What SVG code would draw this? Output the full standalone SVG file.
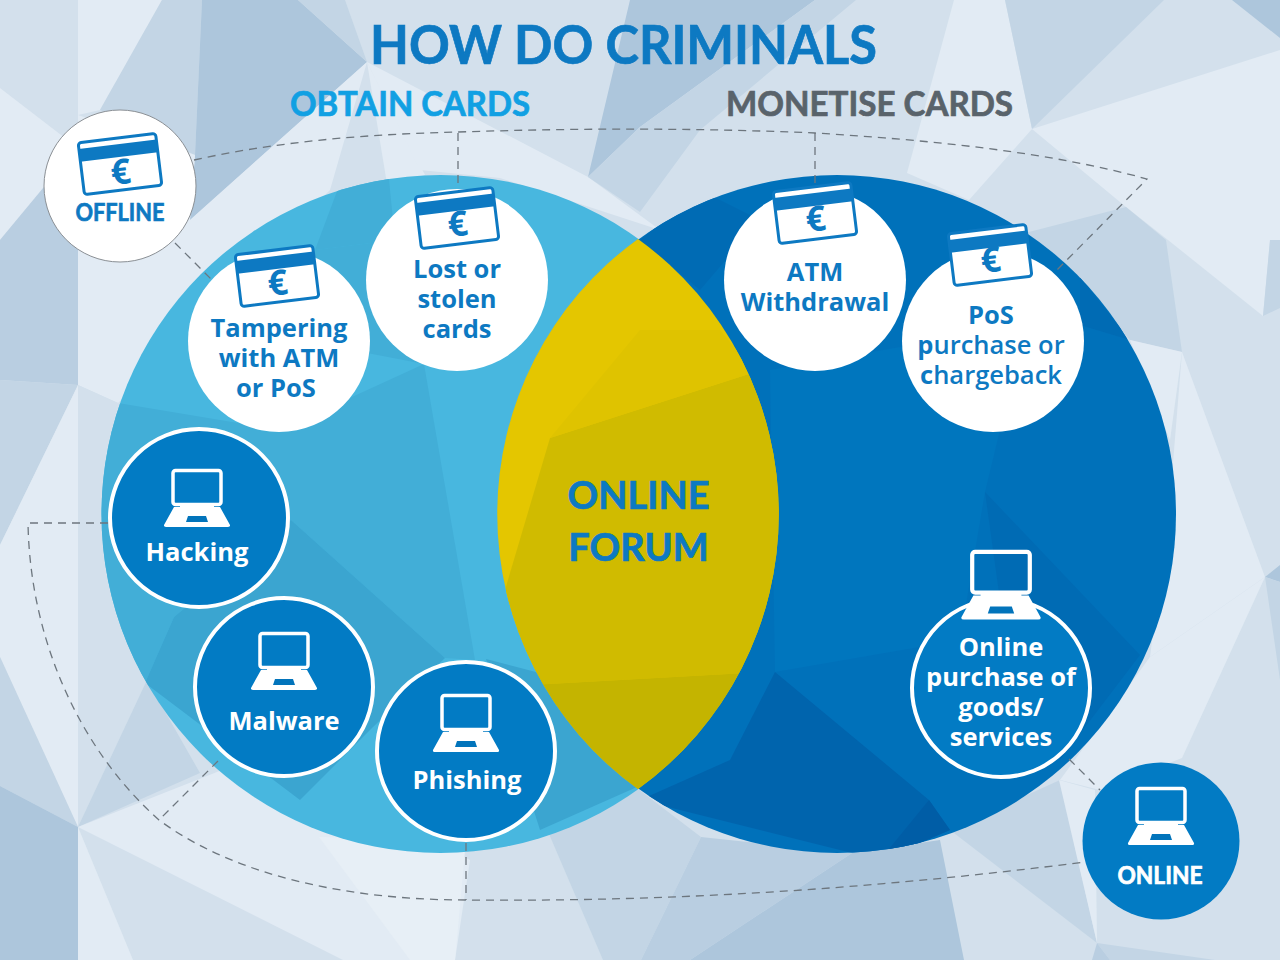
<svg xmlns="http://www.w3.org/2000/svg" width="1280" height="960" viewBox="0 0 1280 960">
<style>
.t{font-family:"Open Sans","Liberation Sans",sans-serif;font-weight:700;text-anchor:middle}
.h{font-family:"Lato","Open Sans",sans-serif;font-weight:700;stroke-width:.7}
.lb{font-size:25.500px;fill:#0d79c2}
.lw{font-size:25.500px;fill:#fff}
.eu{font-size:35px;fill:#0d79c2}
.thin{font-weight:600}
.dash{fill:none;stroke:#6d767e;stroke-width:1.3;stroke-dasharray:8 6}
.a{fill:#e2ebf4}.b{fill:#d3e0ec}.c{fill:#c3d5e5}.d{fill:#adc6dc}.e{fill:#b9cee1}.w{fill:#e7eff6}
.f1{fill:#42aed7}.f2{fill:#3ba5d0}
.r1{fill:#0076be}.r2{fill:#006bb4}.r3{fill:#0064ad}.r4{fill:#005da6}
</style>
<defs>
<clipPath id="cl"><circle cx="440.500" cy="514" r="339"/></clipPath>
<clipPath id="cr"><circle cx="837" cy="514" r="339"/></clipPath>
<clipPath id="lens"><path d="M638,239A339,339 0 0 1 638,789A339,339 0 0 1 638,239Z"/></clipPath>
<g id="card"><rect x="-39" y="-26" width="78" height="52" rx="3" fill="#fff" stroke="#0d79c2" stroke-width="3"/><rect x="-39" y="-20" width="78" height="13" fill="#0d79c2"/></g>
<g id="lap"><rect x="-24" y="1.500" width="48" height="34" rx="2.500" fill="none" stroke="#fff" stroke-width="3.500"/><path d="M-17,36H17V38H23L33,56Q33.500,58 31,58H-31Q-33.500,58 -33,56L-23,38H-17Z" fill="#fff"/><path d="M-9,47H9L11,53H-11Z" fill="#0274bb"/></g>
</defs>
<g id="background">
<rect width="1280" height="960" class="b"/>
<polygon class="a" points="0,88 78,148 78,200 44,187 0,240"/>
<polygon class="e" points="0,240 44,187 78,200 78,385 0,380"/>
<polygon class="c" points="0,380 78,385 0,545"/>
<polygon class="a" points="78,385 0,545 0,657 78,827"/>
<polygon class="c" points="0,657 78,827 0,786"/>
<polygon class="d" points="0,786 78,827 78,960 0,960"/>
<polygon class="a" points="78,0 162,0 100,110 78,115"/>
<polygon class="c" points="162,0 202,0 195,155 100,110"/>
<polygon class="d" points="202,0 298,0 367,62 190,220 195,155"/>
<polygon class="c" points="298,0 345,0 367,62"/>
<polygon class="a" points="367,62 190,220 78,230 78,385 118,403 330,190"/>
<polygon class="a" points="78,115 195,155 190,220 78,240"/>
<polygon class="b" points="78,385 118,403 101,514 105,600 147,680 78,827"/>
<polygon class="c" points="78,827 147,680 200,773"/>
<polygon class="a" points="367,62 388,190 425,175"/>
<polygon class="a" points="367,62 588,177 660,230 500,178 420,170"/>
<polygon class="d" points="630,0 815,0 640,127 588,177"/>
<polygon class="c" points="588,177 640,127 815,0 856,0 700,130 640,212"/>
<polygon class="a" points="954,0 1005,0 1032,129 969,200 907,173"/>
<polygon class="c" points="1005,0 1164,0 1032,129"/>
<polygon class="d" points="1232,0 1280,0 1280,38"/>
<polygon class="a" points="1032,129 1280,50 1280,240 1270,240 1263,316 1168,240 1126,207"/>
<polygon class="c" points="1025,233 1126,207 1166,240 1182,352 1130,340 1060,270"/>
<polygon class="c" points="1270,240 1280,240 1280,308 1263,316"/>
<polygon class="a" points="1130,340 1182,352 1170,440"/>
<polygon class="a" points="1182,352 1265,577 1150,657 1170,500"/>
<polygon class="a" points="1150,657 1265,577 1182,758 1100,790 1060,780"/>
<polygon class="d" points="1265,577 1280,565 1280,582"/>
<polygon class="c" points="1265,577 1280,582 1280,680"/>
<polygon class="a" points="78,827 260,755 470,860 455,960 343,960"/>
<polygon class="w" points="319,837 466,840 455,960 410,960"/>
<polygon class="a" points="78,827 133,960 78,960"/>
<polygon class="c" points="540,813 638,789 701,837 641,960 603,960"/>
<polygon class="e" points="701,837 852,853 690,960 641,960"/>
<polygon class="d" points="852,853 940,840 964,960 690,960"/>
<polygon class="c" points="950,830 1060,780 1097,943"/>
<polygon class="a" points="1059,780 1095,790 1097,943"/>
<polygon class="c" points="1097,943 1215,960 1110,960"/>
<polygon class="e" points="1097,943 1110,960 1092,960"/>
</g>
<g id="venn">
<circle cx="440.500" cy="514" r="339" fill="#48b7df"/>
<g clip-path="url(#cl)">
<polygon class="f1" points="95,400 118,403 280,430 424,364 475,660 445,658 291,520 174,617 145,683 95,640"/>
<polygon class="f2" points="291,520 445,658 373,727 300,800 145,683 174,617"/>
<polygon class="f2" points="486,659 555,677 637,787 540,830"/>
<polygon class="f1" points="345,170 388,170 395,240 315,250"/>
<polygon class="f1" points="395,240 424,364 300,340 315,250"/>
</g>
<circle cx="837" cy="514" r="339" fill="#0071ba"/>
<g clip-path="url(#cr)">
<polygon class="r2" points="640,240 700,190 760,220 700,290"/>
<polygon class="r1" points="770,370 940,340 1000,430 985,492 960,640 775,672"/>
<polygon class="r2" points="985,492 1140,655 1060,760 1000,600"/>
<polygon class="r2" points="1080,277 1130,340 1080,325"/>
<polygon class="r3" points="775,672 929,800 950,830 880,860 640,800 730,760"/>
<polygon class="r4" points="929,800 950,830 880,860"/>
</g>
<g clip-path="url(#lens)">
<rect x="490" y="230" width="300" height="570" fill="#e4c600"/>
<polygon fill="#d0bb00" points="550,438 755,372 800,372 800,670 530,685 505,590"/>
<polygon fill="#c4b400" points="530,685 800,670 700,810 580,810"/>
<polygon fill="#dfc300" points="550,438 640,330 720,330 755,372"/>
</g>
</g>
<g id="connectors">
<path class="dash" d="M194,160C280,141 370,134 458,132C580,128 700,128 815,133C930,140 1050,152 1147,179L1055,272"/>
<path class="dash" d="M458,133V190M815,133V185M175,243L213,281"/>
<path class="dash" d="M108,523H28C30,640 80,750 159,820C240,880 360,900 466,900C680,902 880,888 1085,862"/>
<path class="dash" d="M466,843V900M218,761L159,820M1069,759L1100,790"/>
</g>
<g id="title">
<text class="t h" x="623.500" y="64" font-size="54" fill="#0d79c2" stroke="#0d79c2" textLength="507" lengthAdjust="spacingAndGlyphs">HOW DO CRIMINALS</text>
<text class="t h" x="410" y="116" font-size="35" fill="#11a0e3" stroke="#11a0e3" textLength="240" lengthAdjust="spacingAndGlyphs">OBTAIN CARDS</text>
<text class="t h" x="869.500" y="116" font-size="35" fill="#59636b" stroke="#59636b" textLength="287" lengthAdjust="spacingAndGlyphs">MONETISE CARDS</text>
</g>
<g id="online-forum"><text class="t h" font-size="38" fill="#0d79c2" stroke="#0d79c2"><tspan x="638.500" y="509">ONLINE</tspan><tspan x="638.500" y="561">FORUM</tspan></text></g>
<g id="offline"><circle cx="120" cy="186" r="76" fill="#fff" stroke="#8a8f94" stroke-width="1"/><use href="#card" transform="translate(120 164) rotate(-7)"/><text class="t eu" x="121" y="184" transform="rotate(-7 121 175)">€</text><text class="t h" x="120" y="221" font-size="24" fill="#0d79c2" stroke="#0d79c2" textLength="89" lengthAdjust="spacingAndGlyphs">OFFLINE</text></g>
<g id="tampering"><circle cx="279" cy="341" r="91" fill="#fff"/><use href="#card" transform="translate(277 276) rotate(-7)"/><text class="t eu" x="278" y="295" transform="rotate(-7 278 285)">€</text><text class="t lb"><tspan x="279" y="337">Tampering</tspan><tspan x="279" y="367">with ATM</tspan><tspan x="276" y="397">or PoS</tspan></text></g>
<g id="lost"><circle cx="457" cy="280" r="91" fill="#fff"/><use href="#card" transform="translate(457 218) rotate(-7)"/><text class="t eu" x="458" y="236" transform="rotate(-7 458 226)">€</text><text class="t lb"><tspan x="457" y="278">Lost or</tspan><tspan x="457" y="308">stolen</tspan><tspan x="457" y="338">cards</tspan></text></g>
<g id="atm"><circle cx="815" cy="280" r="91" fill="#fff"/><use href="#card" transform="translate(815 213) rotate(-7)"/><text class="t eu" x="816" y="231" transform="rotate(-7 816 221)">€</text><text class="t lb"><tspan x="815" y="281">ATM</tspan><tspan x="815" y="311">Withdrawal</tspan></text></g>
<g id="pos"><circle cx="993" cy="341" r="91" fill="#fff"/><use href="#card" transform="translate(990 255) rotate(-7)"/><text class="t eu" x="991" y="272" transform="rotate(-7 991 262)">€</text><text class="t lb"><tspan x="991" y="324">PoS</tspan><tspan class="thin" x="991" y="354"><tspan font-weight="700">p</tspan>urchase or</tspan><tspan class="thin" x="991" y="384"><tspan font-weight="700">c</tspan>hargeback</tspan></text></g>
<g id="hacking"><circle cx="199" cy="518" r="89" fill="#027bc4" stroke="#fff" stroke-width="4"/><use href="#lap" transform="translate(197 469)"/><text class="t lw" x="197" y="561">Hacking</text></g>
<g id="malware"><circle cx="284" cy="687" r="89" fill="#027bc4" stroke="#fff" stroke-width="4"/><use href="#lap" transform="translate(284 632)"/><text class="t lw" x="284" y="730">Malware</text></g>
<g id="phishing"><circle cx="466" cy="751" r="89" fill="#027bc4" stroke="#fff" stroke-width="4"/><use href="#lap" transform="translate(466 694)"/><text class="t lw" x="467" y="789">Phishing</text></g>
<g id="online-purchase"><circle cx="1001" cy="688" r="89" fill="#027bc4" stroke="#fff" stroke-width="4"/><use href="#lap" transform="translate(1001 550) scale(1.2)"/><text class="t lw"><tspan x="1001" y="656">Online</tspan><tspan x="1001" y="686">purchase of</tspan><tspan x="1001" y="716">goods/</tspan><tspan x="1001" y="746">services</tspan></text></g>
<g id="online"><circle cx="1161" cy="841" r="78.500" fill="#027bc4"/><use href="#lap" transform="translate(1161 787)"/><text class="t h" x="1160" y="884" font-size="24" fill="#fff" stroke="#fff" textLength="85" lengthAdjust="spacingAndGlyphs">ONLINE</text></g>
</svg>
